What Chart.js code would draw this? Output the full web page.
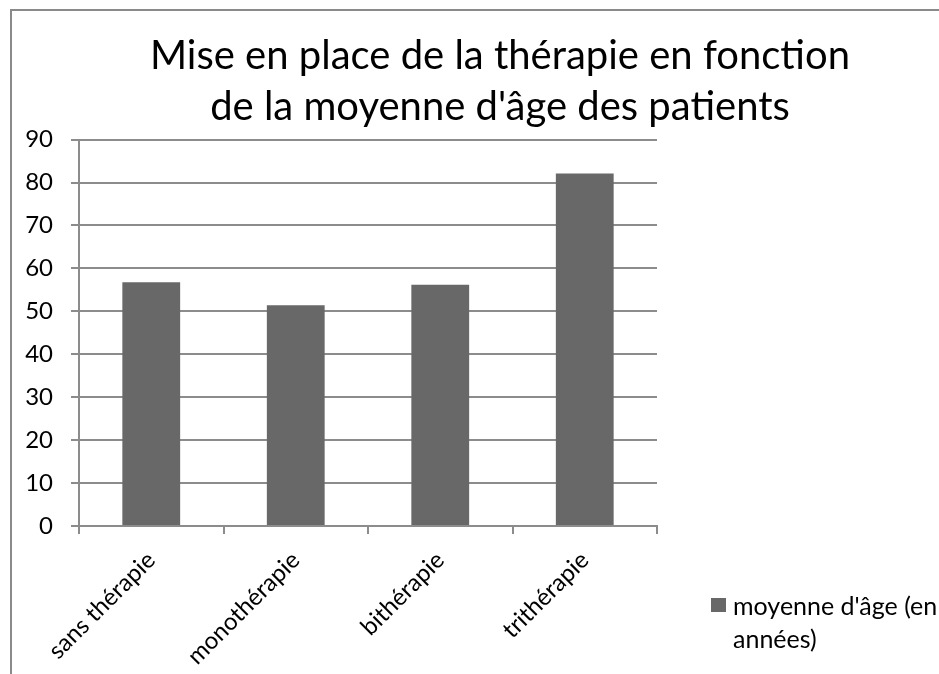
<!DOCTYPE html>
<html lang="fr">
<head>
    <meta charset="UTF-8">
    <title>Mise en place de la thérapie</title>
    <script src="https://cdn.jsdelivr.net/npm/chart.js@4.4.0/dist/chart.umd.min.js"></script>
    <style>
        html, body { margin: 0; padding: 0; background: #fff; overflow: hidden; }
        #wrap { position: relative; width: 1000px; height: 674px; }
        #frame { position: absolute; left: 10px; top: 9px; right: 0; bottom: -10px;
                 border-top: 2px solid #8a8a8a; border-left: 2px solid #8a8a8a; }
        #chartBox { position: absolute; left: 0; top: 0; width: 1000px; height: 674px; }
        #legend { position: absolute; left: 711px; top: 589px; font: 25px Lato, sans-serif;
                  color: #000; line-height: 33px; }
        #legend .sw { position: absolute; left: 0; top: 9px; width: 15px; height: 14px; background: #686868; }
        #legend .txt { margin-left: 22px; white-space: nowrap; }
    </style>
</head>
<body>
<div id="wrap">
    <div id="frame"></div>
    <div id="chartBox"><canvas id="ageChart" width="1000" height="674"></canvas></div>
    <div id="legend"><span class="sw"></span><div class="txt">moyenne d'âge (en<br>années)</div></div>
</div>

<script>
    const categories = ['sans thérapie', 'monothérapie', 'bithérapie', 'trithérapie'];
    const ageMoyen = [56.8, 51.4, 56.2, 82.1];
    const seriesLabel = "moyenne d'âge (en années)";
    const titleLines = ['Mise en place de la thérapie en fonction', "de la moyenne d'âge des patients"];
    const yMin = 0, yMax = 90, yStep = 10;

    const gridColor = '#8c8c8c';
    const font = 'Lato';

    new Chart(document.getElementById('ageChart'), {
        type: 'bar',
        data: {
            labels: categories,
            datasets: [{
                label: seriesLabel,
                data: ageMoyen,
                backgroundColor: '#686868',
                borderWidth: 0,
                barPercentage: 0.4,
                categoryPercentage: 1.0
            }]
        },
        options: {
            responsive: false,
            animation: false,
            layout: { padding: 0 },
            plugins: {
                legend: { display: false },
                tooltip: { enabled: false },
                title: {
                    display: true,
                    text: titleLines,
                    color: '#000',
                    font: { family: font, size: 40, weight: 'normal', lineHeight: 1.27 },
                    padding: { top: 31, bottom: 7 }
                }
            },
            scales: {
                x: {
                    grid: { display: true, drawOnChartArea: false, offset: true, tickLength: 8,
                            color: gridColor, lineWidth: 2 },
                    border: { display: true, color: gridColor, width: 2 },
                    ticks: { color: '#000', font: { family: font, size: 24 },
                             minRotation: 45, maxRotation: 45, padding: 12 },
                    afterFit(s) { s.height = 148; }
                },
                y: {
                    min: yMin, max: yMax,
                    grid: { color: gridColor, lineWidth: 2, tickLength: 8 },
                    border: { display: true, color: gridColor, width: 2 },
                    ticks: { stepSize: yStep, color: '#000', font: { family: font, size: 24 }, padding: 18 },
                    afterFit(s) { s.width = 79; }
                },
                yRight: {
                    position: 'right',
                    display: true,
                    grid: { display: false },
                    border: { display: false },
                    ticks: { display: false },
                    afterFit(s) { s.width = 343; }
                }
            }
        }
    });
</script>
</body>
</html>
